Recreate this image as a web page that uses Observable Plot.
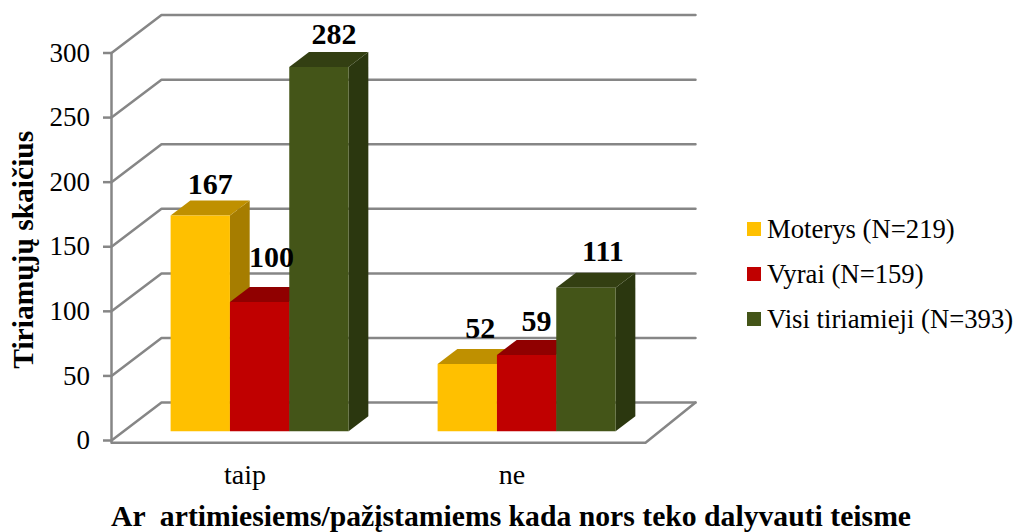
<!DOCTYPE html>
<html>
<head>
<meta charset="utf-8">
<script src="https://cdn.jsdelivr.net/npm/d3@7"></script>
<script src="https://cdn.jsdelivr.net/npm/@observablehq/plot@0.6"></script>
<style>
html,body{margin:0;padding:0;background:#fff}
#wrap{position:relative;width:1021px;height:532px;overflow:hidden}
.lg{position:absolute;left:767px;font:26.7px "Liberation Serif",serif;color:#000;line-height:28px;white-space:pre}
.sw{position:absolute;left:747px;width:14px;height:14px}
</style>
</head>
<body>
<div id="wrap"></div>
<script>
const categories = ["taip", "ne"];
const seriesNames = ["Moterys (N=219)", "Vyrai (N=159)", "Visi tiriamieji (N=393)"];
const moterys = [167, 52];
const vyrai = [100, 59];
const visi = [282, 111];
const series = [moterys, vyrai, visi];
const frontColors = ["#FFC000", "#C00000", "#445518"];
const topColors = ["#BF9000", "#900000", "#333F12"];
const sideColors = ["#A67D00", "#7D0000", "#2B370F"];
const yTicks = [0, 50, 100, 150, 200, 250, 300];
const xLabel = "Ar  artimiesiems/pažįstamiems kada nors teko dalyvauti teisme";
const yLabel = "Tiriamųjų skaičius";

// oblique projection: depth d (0 = front plane, 1 = back wall) in data units
const dxU = 50 / 267, dyU = 38 / 1.2933;
const P = (x, y, d) => ({x: x + d * dxU, y: y + d * dyU});
const nCat = categories.length;

// walls and floor
const frame = [];
yTicks.forEach(v => {
  [P(0, v, 0), P(0, v, 1), P(nCat, v, 1)].forEach(p => frame.push({...p, id: "g" + v}));
});
[P(0, 300, 0), P(0, -1.8, 0), P(nCat, -1.8, 0), P(nCat, 0, 1)].forEach(p => frame.push({...p, id: "floor"}));

// bars
const d0 = 0.245, d1 = 0.64, bw = 0.2222, start = 0.1755;
const polys = [];
const labels = [];
const labelShift = [[[10, -31], [13, -36]], [[12, -45], [10, -34]], [[15, -33], [17, -36]]];
categories.forEach((c, ci) => {
  series.forEach((vals, si) => {
    const v = vals[ci], x0 = ci + start + si * bw, x1 = x0 + bw;
    const add = (pts, color, id) => pts.forEach(p => polys.push({...p, color, id}));
    add([P(x1, 0, d0), P(x1, 0, d1), P(x1, v, d1), P(x1, v, d0)], sideColors[si], `${c}${si}s`);
    add([P(x0, v, d0), P(x1, v, d0), P(x1, v, d1), P(x0, v, d1)], topColors[si], `${c}${si}t`);
    add([P(x0, 0, d0), P(x1, 0, d0), P(x1, v, d0), P(x0, v, d0)], frontColors[si], `${c}${si}f`);
    const top = P((x0 + x1) / 2, v, d0);
    labels.push({...top, text: String(v), dx: labelShift[si][ci][0], dy: labelShift[si][ci][1]});
  });
});

const serif = '"Liberation Serif", serif';
const plot = Plot.plot({
  width: 1021, height: 532,
  marginLeft: 111, marginRight: 376, marginTop: 52.5, marginBottom: 92,
  style: {background: "#fff", fontFamily: serif, whiteSpace: "pre", overflow: "visible"},
  x: {domain: [0, nCat]},
  y: {domain: [0, 300]},
  color: {type: "identity"},
  marks: [
    Plot.line(frame, {x: "x", y: "y", z: "id", stroke: "#868686", strokeWidth: 2.5, curve: "linear"}),
    Plot.axisY({ticks: yTicks, tickSize: 8, tickPadding: 13.5, stroke: "#868686", strokeWidth: 2.5, fontSize: 27, fill: "#000", label: null, anchor: "left"}),
    Plot.axisX({ticks: categories.map((c, i) => i + 0.5), tickFormat: (d, i) => categories[i], tickSize: 0, tickPadding: 24, fontSize: 28, fill: "#000", label: null, anchor: "bottom"}),
    Plot.line(polys, {x: "x", y: "y", z: "id", fill: "color", stroke: "none", curve: "linear"}),
    ...labels.map(l => Plot.text([l], {x: "x", y: "y", text: "text", dx: l.dx, dy: l.dy, fontSize: 30, fontWeight: "bold", fill: "#000"})),
    Plot.text([xLabel], {text: d => d, fontSize: 29.7, fontWeight: "bold", fill: "#000", textAnchor: "middle", lineAnchor: "middle", x: () => 1.5, frameAnchor: "bottom", dx: -1, dy: 76}),
    Plot.text([yLabel], {frameAnchor: "left", text: d => d, dx: -88, dy: 3, fontSize: 29.5, fontWeight: "bold", fill: "#000", rotate: -90, textAnchor: "middle", lineAnchor: "middle"})
  ]
});
const wrap = document.getElementById("wrap");
wrap.appendChild(plot);
[222, 267, 312].forEach((top, i) => {
  const s = document.createElement("div"); s.className = "sw"; s.style.top = top + "px"; s.style.background = frontColors[i]; wrap.appendChild(s);
  const t = document.createElement("div"); t.className = "lg"; t.style.top = (top - 7) + "px"; t.textContent = seriesNames[i]; wrap.appendChild(t);
});
</script>
</body>
</html>
